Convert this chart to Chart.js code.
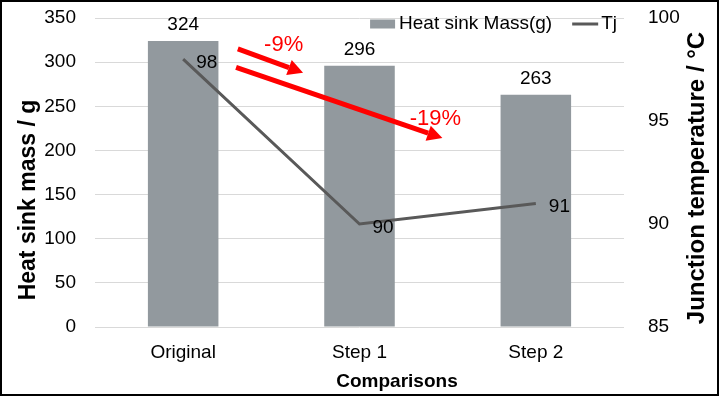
<!DOCTYPE html>
<html>
<head>
<meta charset="utf-8">
<script src="https://cdn.jsdelivr.net/npm/chart.js@4/dist/chart.umd.min.js"></script>
<style>
  html, body { margin: 0; padding: 0; background: #fff; }
  canvas { display: block; }
</style>
</head>
<body>
<canvas id="chart" width="719" height="396"></canvas>
<script>
// ---- datos ----
const categories = ['Original', 'Step 1', 'Step 2'];
const massValues = [324, 296, 263];   // Heat sink Mass(g)
const tjValues = [98, 90, 91];        // Tj (°C)
const massAxis = { min: 0, max: 350, step: 50 };
const tjAxis = { min: 85, max: 100, step: 5 };

// flechas rojas en unidades de datos (índice de categoría, valor eje izquierdo)
const arrowStarts = [[0.31, 315], [0.30, 294]];
const arrowEnds = [[0.68, 288], [1.47, 214]];
const arrowLabels = ['-9%', '-19%'];
const arrowLabelPos = [[0.57, 320], [1.43, 236]];

const FONT = "'Liberation Sans', Arial, sans-serif";
const RED = '#ff0000';

// el padding de ticks no debe empujar el área hacia abajo
const fixWidth = s => { s.width = 95; s.paddingTop = 0; s.paddingBottom = 0; };

// etiquetas de valores + flechas + leyenda + títulos (no hay plugin datalabels offline)
const overlay = {
  id: 'overlay',
  afterDatasetsDraw(chart) {
    const ctx = chart.ctx;
    const xs = chart.scales.x, ys = chart.scales.y;
    ctx.save();
    ctx.fillStyle = '#000';
    ctx.font = '19px ' + FONT;
    ctx.textBaseline = 'alphabetic';

    chart.getDatasetMeta(0).data.forEach((bar, i) => {
      ctx.textAlign = 'center';
      ctx.fillText(massValues[i], bar.x, bar.y - 11);
    });
    chart.getDatasetMeta(1).data.forEach((pt, i) => {
      ctx.textAlign = 'left';
      ctx.fillText(tjValues[i], pt.x + 13, pt.y + 9);
    });

    // flechas
    ctx.strokeStyle = RED;
    ctx.fillStyle = RED;
    ctx.lineWidth = 5;
    arrowStarts.forEach((s, i) => {
      const x0 = xs.getPixelForValue(s[0]), y0 = ys.getPixelForValue(s[1]);
      const x1 = xs.getPixelForValue(arrowEnds[i][0]), y1 = ys.getPixelForValue(arrowEnds[i][1]);
      const ang = Math.atan2(y1 - y0, x1 - x0);
      const head = 15, half = 8;
      const bx = x1 - head * Math.cos(ang), by = y1 - head * Math.sin(ang);
      ctx.beginPath();
      ctx.moveTo(x0, y0);
      ctx.lineTo(bx, by);
      ctx.stroke();
      ctx.beginPath();
      ctx.moveTo(x1, y1);
      ctx.lineTo(bx + half * Math.sin(ang), by - half * Math.cos(ang));
      ctx.lineTo(bx - half * Math.sin(ang), by + half * Math.cos(ang));
      ctx.closePath();
      ctx.fill();
    });
    ctx.font = '22px ' + FONT;
    ctx.textAlign = 'center';
    ctx.textBaseline = 'middle';
    arrowLabels.forEach((t, i) => {
      ctx.fillText(t, xs.getPixelForValue(arrowLabelPos[i][0]), ys.getPixelForValue(arrowLabelPos[i][1]));
    });

    // leyenda arriba a la derecha, dentro del área (estilo Excel)
    const ds = chart.data.datasets;
    ctx.font = '19px ' + FONT;
    ctx.textAlign = 'left';
    ctx.textBaseline = 'middle';
    const ly = chart.chartArea.top + 6;
    let lx = chart.chartArea.right - 7;
    const w1 = ctx.measureText(ds[1].label).width;
    const w0 = ctx.measureText(ds[0].label).width;
    // Tj
    lx -= w1;
    ctx.fillStyle = '#000';
    ctx.fillText(ds[1].label, lx, ly);
    lx -= 3 + 26;
    ctx.strokeStyle = ds[1].borderColor;
    ctx.lineWidth = ds[1].borderWidth;
    ctx.beginPath();
    ctx.moveTo(lx, ly);
    ctx.lineTo(lx + 26, ly);
    ctx.stroke();
    // Heat sink
    lx -= 20 + w0;
    ctx.fillText(ds[0].label, lx, ly);
    lx -= 4 + 25;
    ctx.fillStyle = ds[0].backgroundColor;
    ctx.fillRect(lx, ly - 4.5, 25, 9);
    ctx.restore();
  },
  afterDraw(chart) {
    const ctx = chart.ctx;
    ctx.save();
    ctx.fillStyle = '#000';
    ctx.textAlign = 'center';
    ctx.textBaseline = 'middle';
    ctx.font = 'bold 19px ' + FONT;
    ctx.fillText('Comparisons', 397, 382);

    ctx.font = 'bold 23px ' + FONT;
    ctx.translate(29, 200);
    ctx.rotate(-Math.PI / 2);
    ctx.fillText('Heat sink mass / g', 0, 0);
    ctx.restore();

    ctx.save();
    ctx.fillStyle = '#000';
    ctx.textAlign = 'center';
    ctx.textBaseline = 'middle';
    ctx.font = 'bold 24px ' + FONT;
    ctx.translate(697, 178);
    ctx.rotate(-Math.PI / 2);
    ctx.fillText('Junction temperature / °C', 0, 0);
    ctx.restore();

    // marco oscuro alrededor
    ctx.save();
    ctx.strokeStyle = '#000';
    ctx.lineWidth = 2;
    ctx.strokeRect(1, 1, chart.width - 2, chart.height - 2);
    ctx.restore();
  }
};

const whiteBg = {
  id: 'whiteBg',
  beforeDraw(chart) {
    const ctx = chart.ctx;
    ctx.save();
    ctx.fillStyle = '#fff';
    ctx.fillRect(0, 0, chart.width, chart.height);
    ctx.restore();
  }
};

new Chart(document.getElementById('chart').getContext('2d'), {
  type: 'bar',
  data: {
    labels: categories,
    datasets: [
      {
        type: 'bar',
        label: 'Heat sink Mass(g)',
        data: massValues,
        backgroundColor: '#92999e',
        borderWidth: 0,
        barPercentage: 0.4,
        categoryPercentage: 1,
        yAxisID: 'y',
        order: 2
      },
      {
        type: 'line',
        label: 'Tj',
        data: tjValues,
        borderColor: '#595959',
        backgroundColor: '#595959',
        borderWidth: 3,
        pointRadius: 0,
        tension: 0,
        yAxisID: 'y1',
        order: 1
      }
    ]
  },
  options: {
    responsive: false,
    animation: false,
    devicePixelRatio: 1,
    layout: { padding: { top: 18, left: 0, right: 0, bottom: 0 } },
    plugins: {
      tooltip: { enabled: false },
      legend: { display: false }
    },
    scales: {
      x: {
        grid: { display: false },
        border: { display: false },
        ticks: { color: '#000', font: { size: 19, family: FONT }, padding: 6, maxRotation: 0 },
        afterFit: s => { s.height = 69; }
      },
      y: {
        position: 'left',
        min: massAxis.min,
        max: massAxis.max,
        ticks: { stepSize: massAxis.step, color: '#000', font: { size: 19, family: FONT }, padding: 19 },
        grid: { color: '#d9d9d9', drawTicks: false },
        border: { display: false },
        afterFit: fixWidth
      },
      y1: {
        position: 'right',
        min: tjAxis.min,
        max: tjAxis.max,
        ticks: { stepSize: tjAxis.step, color: '#000', font: { size: 19, family: FONT }, padding: 24 },
        grid: { display: false, drawTicks: false },
        border: { display: false },
        afterFit: fixWidth
      }
    }
  },
  plugins: [whiteBg, overlay]
});
</script>
</body>
</html>
